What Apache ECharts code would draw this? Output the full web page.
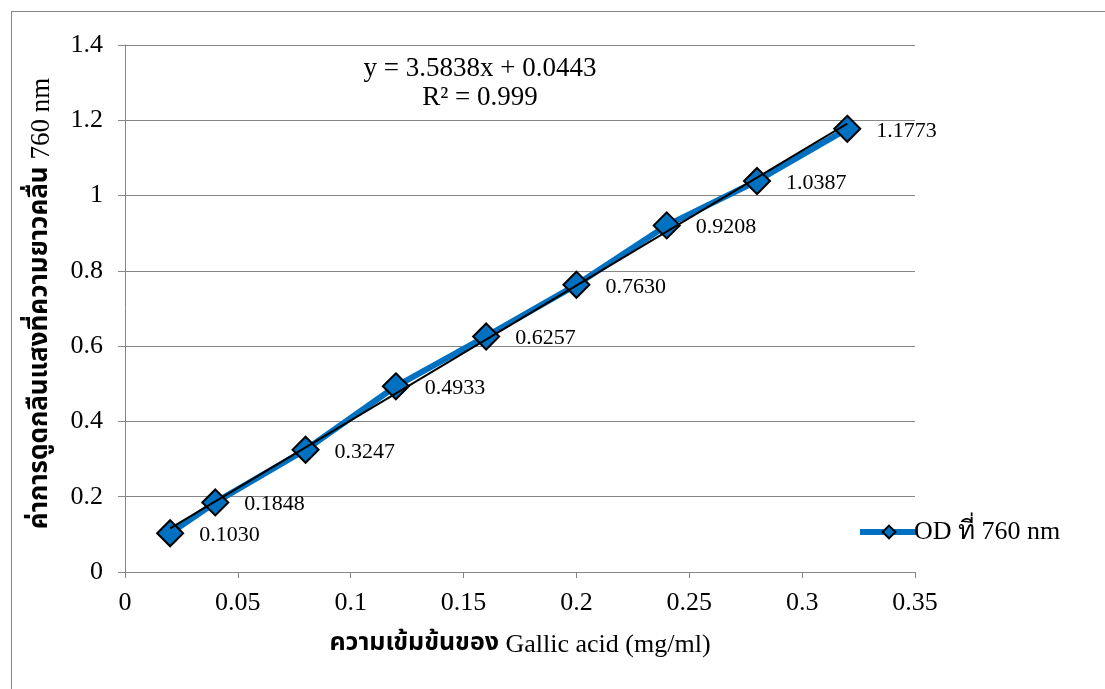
<!DOCTYPE html>
<html>
<head>
<meta charset="utf-8">
<script src="https://cdn.jsdelivr.net/npm/echarts@6/dist/echarts.min.js"></script>
<style>
  html, body { margin: 0; padding: 0; background: #fff; }
  #frame { position: absolute; left: 11px; top: 11px; width: 1200px; height: 800px; border: 1px solid #868686; box-sizing: border-box; }
  #chart { position: absolute; left: 0; top: 0; width: 1105px; height: 689px; }
</style>
</head>
<body>
<div id="frame"></div>
<div id="chart"></div>
<script>
// Gallic acid standard curve: concentration (mg/ml) vs absorbance at 760 nm
const concentrations = [0.02, 0.04, 0.08, 0.12, 0.16, 0.20, 0.24, 0.28, 0.32];
const absorbance = [0.1030, 0.1848, 0.3247, 0.4933, 0.6257, 0.7630, 0.9208, 1.0387, 1.1773];
const fitSlope = 3.5838;
const fitIntercept = 0.0443;
const fitR2 = '0.999';
const seriesName = 'OD ที่ 760 nm';
const xTitleThai = 'ความเข้มข้นของ';
const xTitleLatin = ' Gallic acid (mg/ml)';
const yTitleThai = 'ค่าการดูดกลืนแสงที่ความยาวคลื่น';
const yTitleLatin = ' 760 nm';

const serif = '"Liberation Serif", "Times New Roman", serif';
const thaiSans = '"Noto Sans Thai", "Noto Sans", "DejaVu Sans", sans-serif';

const points = concentrations.map((x, i) => [x, absorbance[i]]);
const x0 = concentrations[0], x1 = concentrations[concentrations.length - 1];
const trend = [[x0, fitSlope * x0 + fitIntercept], [x1, fitSlope * x1 + fitIntercept]];

const chart = echarts.init(document.getElementById('chart'), null, { renderer: 'canvas' });
chart.setOption({
  animation: false,
  grid: { left: 125, right: 190, top: 45, bottom: 117 },
  xAxis: {
    type: 'value', min: 0, max: 0.35, interval: 0.05,
    axisLine: { show: true, onZero: false, lineStyle: { color: '#868686', width: 1 } },
    axisTick: { show: true, length: 6, lineStyle: { color: '#868686' } },
    splitLine: { show: false },
    axisLabel: { color: '#000', fontFamily: serif, fontSize: 26, margin: 18 },
    name: '{t|' + xTitleThai + '}{l|' + xTitleLatin + '}',
    nameLocation: 'middle', nameGap: 60,
    nameTextStyle: {
      rich: {
        t: { fontFamily: thaiSans, fontWeight: 'bold', fontSize: 25, color: '#000' },
        l: { fontFamily: serif, fontSize: 26, color: '#000' }
      }
    }
  },
  yAxis: {
    type: 'value', min: 0, max: 1.4, interval: 0.2,
    axisLine: { show: true, lineStyle: { color: '#868686', width: 1 } },
    axisTick: { show: true, length: 7, lineStyle: { color: '#868686' } },
    splitLine: { show: true, lineStyle: { color: '#868686', width: 1 } },
    axisLabel: { color: '#000', fontFamily: serif, fontSize: 26, margin: 22,
      formatter: v => String(Math.round(v * 10) / 10) },
    name: '{t|' + yTitleThai + '}{l|' + yTitleLatin + '}',
    nameLocation: 'middle', nameGap: 70, nameRotate: 90,
    nameTextStyle: {
      padding: [0, 0, 0, 10],
      rich: {
        t: { fontFamily: thaiSans, fontWeight: 'bold', fontSize: 26, color: '#000' },
        l: { fontFamily: serif, fontSize: 27, color: '#000' }
      }
    }
  },
  legend: {
    data: [seriesName], left: 852, top: 514, orient: 'vertical',
    itemWidth: 58, itemHeight: 16, itemGap: 0,
    lineStyle: { width: 6 },
    textStyle: { fontFamily: serif, fontSize: 26, color: '#000', padding: [0, 0, 0, -9] }
  },
  graphic: [
    { type: 'text', style: { text: 'y = 3.5838x + 0.0443', fontFamily: serif, fontSize: 27, fill: '#000', textAlign: 'center' }, x: 480, y: 55 },
    { type: 'text', style: { text: 'R² = ' + fitR2, fontFamily: serif, fontSize: 27, fill: '#000', textAlign: 'center' }, x: 480, y: 84 }
  ],
  series: [
    {
      name: seriesName, type: 'line', data: points, z: 2,
      lineStyle: { color: '#0070C0', width: 6 },
      symbol: 'diamond', symbolSize: 26,
      itemStyle: { color: '#0070C0', borderColor: '#000', borderWidth: 2 },
      label: {
        show: true, position: 'right', distance: 15, offset: [0, 2],
        fontFamily: serif, fontSize: 22, color: '#000',
        formatter: p => p.value[1].toFixed(4)
      }
    },
    {
      name: 'trend', type: 'line', data: trend, z: 3,
      symbol: 'none', silent: true,
      lineStyle: { color: '#000', width: 2 }
    }
  ]
});
</script>
</body>
</html>
